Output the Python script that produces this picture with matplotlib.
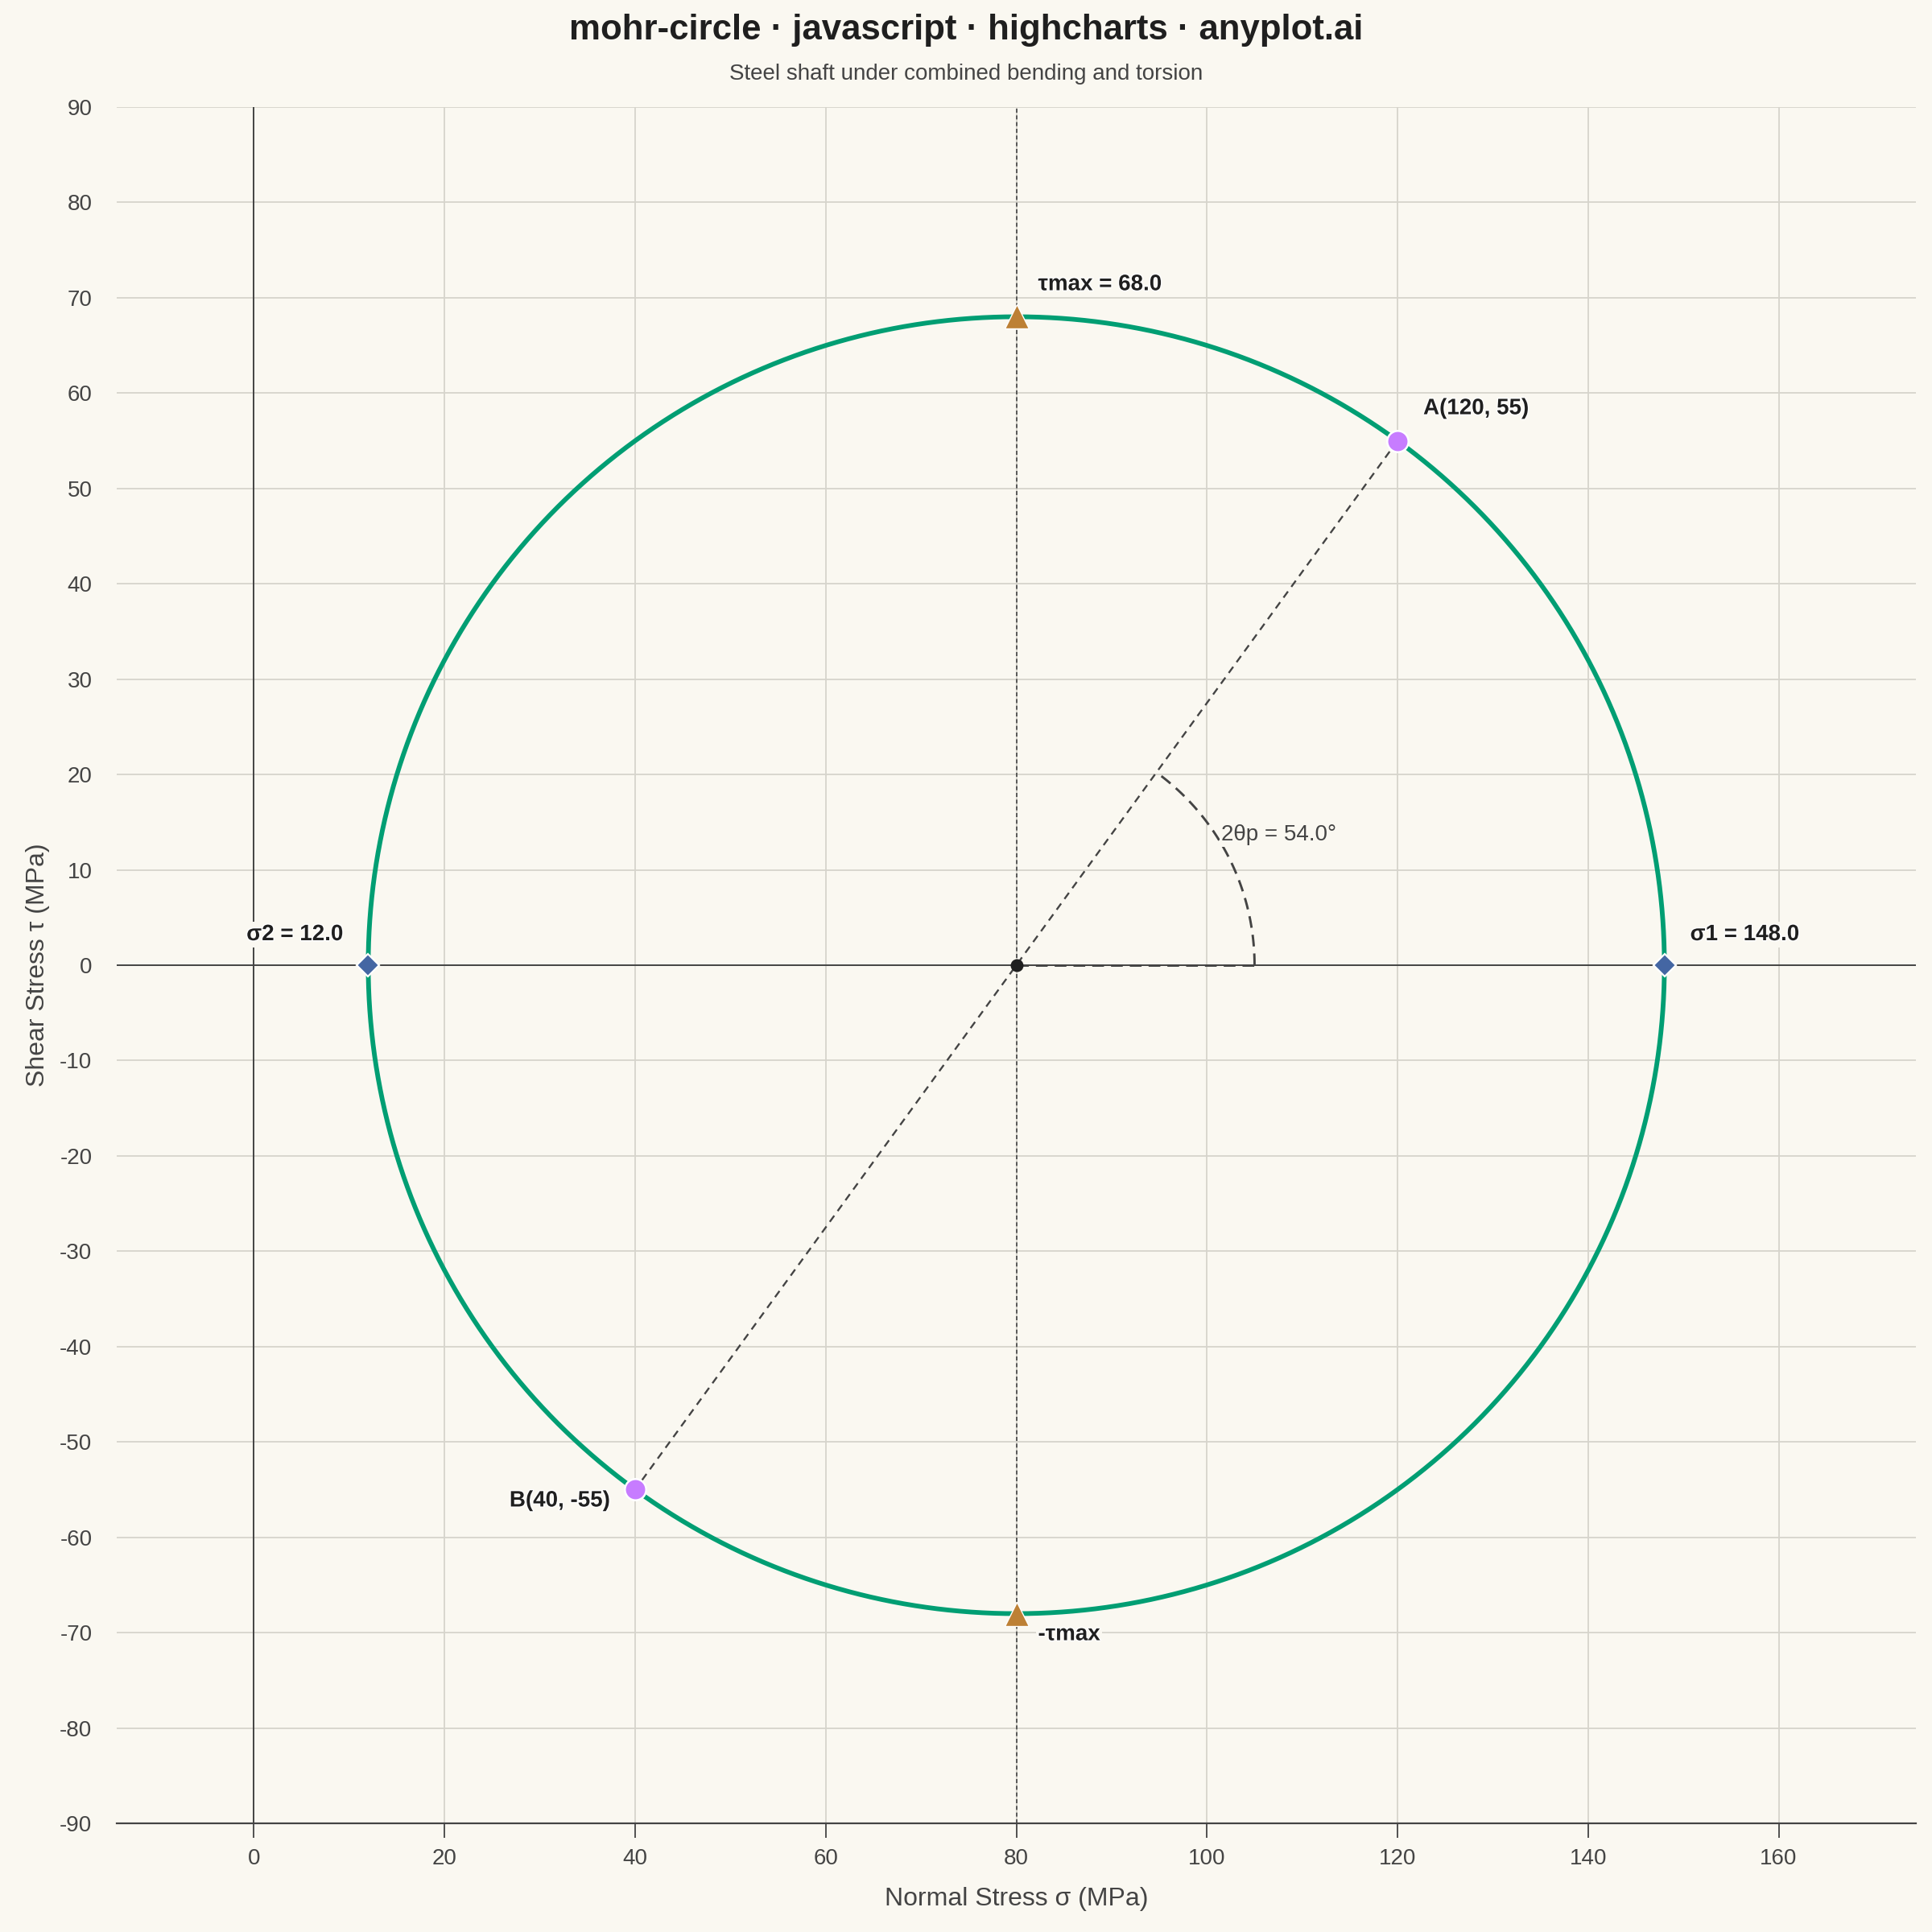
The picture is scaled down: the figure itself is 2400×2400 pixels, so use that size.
import numpy as np
import matplotlib
matplotlib.use("Agg")
import matplotlib.pyplot as plt
import matplotlib.patheffects as pe

# ---- data ----
sigma_x = 120.0
sigma_y = 40.0
tau_xy = 55.0
point_labels = ["A(120, 55)", "B(40, -55)"]
x_ticks = [0, 20, 40, 60, 80, 100, 120, 140, 160]
y_ticks = [-90, -80, -70, -60, -50, -40, -30, -20, -10, 0, 10, 20, 30, 40, 50, 60, 70, 80, 90]

center = (sigma_x + sigma_y) / 2
radius = np.hypot((sigma_x - sigma_y) / 2, tau_xy)
sigma1 = center + radius
sigma2 = center - radius
two_theta = np.degrees(np.arctan2(tau_xy, (sigma_x - sigma_y) / 2))

BG = "#FAF8F1"
INK = "#1f1f1f"
GREY = "#444444"
GRID = "#D6D4CC"
GREEN = "#009E73"
PURPLE = "#C77CFF"
BLUE = "#4466A3"
ORANGE = "#BD8035"

plt.rcParams["font.family"] = ["Liberation Sans", "DejaVu Sans"]

fig = plt.figure(figsize=(24, 24), dpi=100, facecolor=BG)
ax = fig.add_axes([145 / 2400, 1 - 2265 / 2400, (2380 - 145) / 2400, (2265 - 133) / 2400])
ax.set_facecolor(BG)

half = 94.4
ax.set_xlim(center - half, center + half)
ax.set_ylim(-90, 90)

ax.set_xticks(x_ticks)
ax.set_yticks(y_ticks)
ax.set_xticklabels([str(v) for v in x_ticks])
ax.set_yticklabels([str(v) for v in y_ticks])
ax.grid(True, color=GRID, linewidth=1.3, zorder=0)
ax.set_axisbelow(True)
for s in ["top", "right", "left"]:
    ax.spines[s].set_visible(False)
ax.spines["bottom"].set_color(GREY)
ax.spines["bottom"].set_linewidth(1.6)
ax.tick_params(axis="x", length=13, width=1.3, color=GREY, labelsize=20, labelcolor=GREY, pad=9)
ax.tick_params(axis="y", length=0, labelsize=20, labelcolor=GREY, pad=22)

ax.set_xlabel("Normal Stress σ (MPa)", fontsize=23, color=GREY)
ax.set_ylabel("Shear Stress τ (MPa)", fontsize=23, color=GREY)
ax.xaxis.set_label_coords(0.5, -0.037)
ax.yaxis.set_label_coords(-0.037, 0.5)

# reference lines
ax.axhline(0, color=GREY, linewidth=1.4, zorder=1)
ax.axvline(0, color=GREY, linewidth=1.4, zorder=1)
ax.axvline(center, color=GREY, linewidth=1.2, linestyle=(0, (3, 2)), zorder=1)

# circle
t = np.linspace(0, 2 * np.pi, 721)
ax.plot(center + radius * np.cos(t), radius * np.sin(t), color=GREEN, linewidth=4.2, zorder=3)

# diameter A-B
ax.plot([sigma_x, sigma_y], [tau_xy, -tau_xy], color=GREY, linewidth=1.7,
        linestyle=(0, (4, 3)), zorder=2)

# angle arc
arc_r = 25
a = np.radians(np.linspace(0, two_theta, 100))
ax.plot(center + arc_r * np.cos(a), arc_r * np.sin(a), color=GREY, linewidth=2.1,
        linestyle=(0, (5, 3)), zorder=2)
ax.plot([center, center + arc_r], [0, 0], color=GREY, linewidth=2.1,
        linestyle=(0, (5, 3)), zorder=2)
ax.text(101.5, 13.7, f"2θp = {two_theta:.1f}°", fontsize=20, color=GREY,
        ha="left", va="center", zorder=4,
        bbox=dict(facecolor=BG, edgecolor="none", pad=1.5))

# center
ax.plot([center], [0], marker="o", markersize=10.5, color=INK, linestyle="none", zorder=5)

# markers
ax.plot([sigma_x, sigma_y], [tau_xy, -tau_xy], marker="o", markersize=19,
        markerfacecolor=PURPLE, markeredgecolor="white", markeredgewidth=1.8,
        linestyle="none", zorder=6)
ax.plot([sigma1, sigma2], [0, 0], marker="D", markersize=14.5,
        markerfacecolor=BLUE, markeredgecolor="white", markeredgewidth=1.6,
        linestyle="none", zorder=6)
ax.plot([center, center], [radius, -radius], marker="^", markersize=21,
        markerfacecolor=ORANGE, markeredgecolor="white", markeredgewidth=1.0,
        linestyle="none", zorder=6)

outline = [pe.withStroke(linewidth=2, foreground="white")]
box = dict(facecolor=BG, edgecolor="none", pad=2)


def lab(txt, xy, off, ha):
    ax.annotate(txt, xy=xy, xytext=off, textcoords="offset pixels", fontsize=20,
                fontweight="bold", color=INK, ha=ha, va="center", zorder=7,
                path_effects=outline, bbox=box)


lab(f"τmax = {radius:.1f}", (center, radius), (27, 40), "left")
lab("-τmax", (center, -radius), (27, -26), "left")
lab(point_labels[0], (sigma_x, tau_xy), (32, 40), "left")
lab(point_labels[1], (sigma_y, -tau_xy), (-31, -14), "right")
lab(f"σ1 = {sigma1:.1f}", (sigma1, 0), (32, 38), "left")
lab(f"σ2 = {sigma2:.1f}", (sigma2, 0), (-31, 38), "right")

fig.text(0.5, 1 - 38 / 2400, "mohr-circle · javascript · highcharts · anyplot.ai",
         ha="center", va="center", fontsize=31.5, fontweight="bold", color=INK)
fig.text(0.5, 1 - 92 / 2400, "Steel shaft under combined bending and torsion",
         ha="center", va="center", fontsize=20, color=GREY)

fig.savefig("out.png", dpi=100, facecolor=BG)
